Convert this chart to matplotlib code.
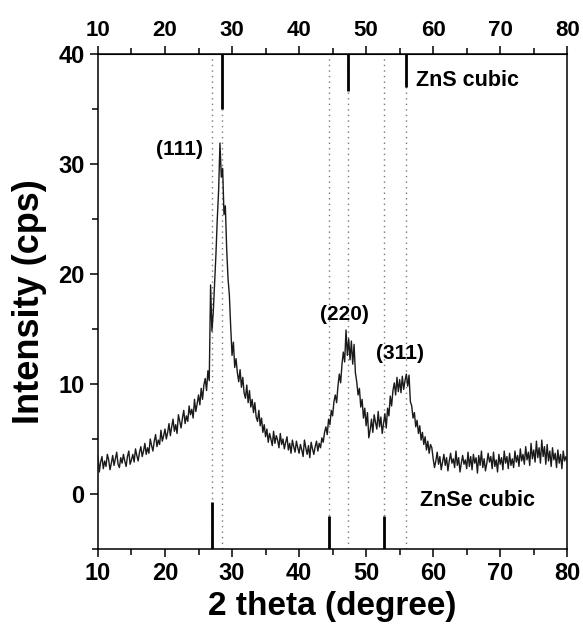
"""XRD pattern of ZnS/ZnSe film with cubic reference sticks (ZnS top, ZnSe bottom)."""
import numpy as np
import matplotlib
matplotlib.use("Agg")
import matplotlib.pyplot as plt
from matplotlib.ticker import MultipleLocator

plt.rcParams["font.family"] = ["Liberation Sans", "DejaVu Sans"]
plt.rcParams["font.weight"] = "bold"

# scan: 10-80 deg, 0.2 deg step, intensity in cps
start, step = 10.0, 0.2
intensity = [
    # 10-15
    3.5, 2.0, 2.9, 3.4, 2.3, 3.0, 2.5, 3.6, 3.1, 2.2, 2.8, 3.5, 2.6, 3.2, 3.8, 2.7, 2.4, 3.3, 2.8, 3.6, 3.0, 2.5, 3.4, 3.9, 2.7,
    # 15-20
    3.1, 3.6, 2.9, 4.1, 3.5, 3.0, 3.8, 4.3, 3.4, 3.9, 4.6, 3.6, 4.2, 3.7, 5.0, 4.4, 3.9, 4.8, 5.4, 4.3, 4.9, 4.5, 5.8, 4.8, 5.3,
    # 20-25
    5.9, 5.0, 5.6, 6.4, 5.3, 6.1, 6.8, 5.7, 6.3, 5.5, 7.2, 6.6, 6.0, 6.9, 7.6, 6.4, 7.1, 6.6, 8.0, 7.2, 7.7, 6.9, 8.6, 7.5, 8.2,
    # 25-30  (111)
    9.0, 8.1, 9.6, 8.6, 9.9, 10.5, 9.4, 11.2, 10.3, 19.0, 14.8, 16.5, 19.2, 21.8, 25.0, 27.6, 31.9, 28.8, 29.6, 25.4, 26.2, 22.3, 19.6, 18.1, 15.2,
    # 30-35
    12.6, 13.8, 11.5, 12.3, 11.0, 10.2, 11.3, 9.7, 10.6, 9.2, 8.7, 9.9, 8.3, 9.4, 7.9, 8.6, 7.4, 8.3, 7.0, 6.6, 7.6, 6.2, 6.9, 5.6, 6.3,
    # 35-40
    5.2, 5.9, 4.7, 5.5, 5.0, 4.4, 5.7, 4.6, 5.3, 4.9, 4.2, 5.5, 4.5, 5.0, 4.1, 4.7, 5.2, 4.0, 4.6, 3.7, 4.9, 4.3, 3.8, 4.8, 4.2,
    # 40-45
    3.7, 4.5, 4.0, 3.4, 4.9, 4.2, 3.6, 4.4, 3.3, 4.7, 4.1, 3.6, 4.3, 4.8, 3.9, 4.6, 4.2, 5.1, 4.7, 5.6, 6.1, 5.4, 6.8, 6.3, 7.6,
    # 45-50  (220)
    7.1, 8.4, 9.0, 8.3, 9.8, 10.9, 10.1, 11.8, 12.9, 12.0, 14.9, 12.6, 14.1, 12.2, 13.9, 11.8, 13.6, 11.0, 10.2, 9.0, 9.6, 7.9, 8.6, 6.9, 7.8,
    # 50-55
    6.2, 7.4, 5.1, 5.8, 6.8, 5.6, 7.2, 6.5, 5.9, 7.5, 6.1, 7.0, 5.5, 6.4, 7.3, 6.0, 7.8, 7.1, 8.9, 8.0, 9.4, 10.1, 9.0, 10.6, 9.3,
    # 55-60  (311)
    10.4, 9.2, 10.7, 9.5, 10.3, 10.9, 9.8, 10.8, 8.4, 8.0, 6.9, 7.4, 6.1, 6.7, 5.5, 6.2, 4.9, 5.6, 4.5, 5.2, 4.0, 4.8, 3.7, 4.5, 4.2,
    # 60-65
    3.2, 2.4, 3.0, 3.8, 2.7, 3.4, 2.2, 2.9, 3.6, 2.6, 3.3, 2.1, 3.0, 3.7, 2.8, 3.2, 2.4, 3.9, 2.6, 3.3, 2.0, 2.8, 3.5, 2.7, 3.1,
    # 65-70
    2.3, 3.8, 2.5, 3.4, 2.2, 3.6, 2.8, 3.3, 1.9, 3.5, 2.6, 3.9, 2.4, 3.2, 2.1, 2.8, 3.7, 2.9, 3.4, 2.3, 3.8, 2.5, 3.1, 2.0, 3.6,
    # 70-75
    2.7, 3.3, 2.2, 3.9, 2.8, 3.4, 2.3, 3.7, 2.6, 3.2, 2.4, 3.9, 2.9, 3.5, 2.5, 4.1, 3.0, 3.6, 2.7, 4.3, 3.1, 3.8, 2.6, 4.6, 3.2,
    # 75-80
    4.0, 2.9, 4.8, 3.3, 4.2, 2.8, 4.9, 3.4, 4.3, 2.7, 4.5, 3.0, 3.9, 2.5, 4.2, 3.1, 3.7, 2.4, 4.0, 2.8, 3.6, 2.3, 3.9, 3.0, 3.4,
    2.9,
]
two_theta = start + step * np.arange(len(intensity))

# reference patterns (stick tip heights on the intensity scale)
zns_pos = [28.5, 47.3, 56.0]
zns_tip = [35.0, 36.6, 37.0]
znse_pos = [26.95, 44.4, 52.7]
znse_tip = [-0.7, -2.0, -2.0]

peak_labels = ["(111)", "(220)", "(311)"]
peak_label_xy = [(22.2, 31.3), (46.7, 16.3), (55.0, 12.8)]

YMIN, YMAX = -5, 40

fig = plt.figure(figsize=(5.83, 6.31), dpi=100)
ax = fig.add_axes([0.168, 0.130, 0.805, 0.7845])

for x in zns_pos + znse_pos:
    ax.axvline(x, color="#777777", lw=1.0, ls=(0, (1, 3)), zorder=1)

ax.plot(two_theta, intensity, color="#1a1a1a", lw=1.0, zorder=3)

ax.vlines(zns_pos, zns_tip, YMAX, color="black", lw=2.0, zorder=4)
ax.vlines(znse_pos, YMIN, znse_tip, color="black", lw=2.0, zorder=4)

for lab, (x, y) in zip(peak_labels, peak_label_xy):
    ax.text(x, y, lab, ha="center", va="center", fontsize=15, fontweight="bold")
ax.text(57.4, 37.6, "ZnS cubic", ha="left", va="center", fontsize=15.5, fontweight="bold")
ax.text(58.0, -0.6, "ZnSe cubic", ha="left", va="center", fontsize=15.5, fontweight="bold")

ax.set_xlim(10, 80)
ax.set_ylim(YMIN, YMAX)
ax.xaxis.set_major_locator(MultipleLocator(10))
ax.xaxis.set_minor_locator(MultipleLocator(5))
ax.yaxis.set_major_locator(MultipleLocator(10))
ax.yaxis.set_minor_locator(MultipleLocator(5))
ax.tick_params(which="both", direction="out", width=1.1, labelsize=17, right=False)
ax.tick_params(which="major", length=6)
ax.tick_params(which="minor", length=4)
for lbl in ax.get_xticklabels() + ax.get_yticklabels():
    lbl.set_fontweight("bold")

top = ax.secondary_xaxis("top")
top.xaxis.set_major_locator(MultipleLocator(10))
top.xaxis.set_minor_locator(MultipleLocator(5))
top.tick_params(which="both", direction="out", width=1.1, labelsize=16)
top.tick_params(which="major", length=6)
top.tick_params(which="minor", length=4)
for lbl in top.get_xticklabels():
    lbl.set_fontweight("bold")

for s in ax.spines.values():
    s.set_linewidth(1.1)

ax.set_xlabel("2 theta (degree)", fontsize=24, fontweight="bold", labelpad=4)
ax.set_ylabel("Intensity (cps)", fontsize=26, fontweight="bold", labelpad=8)

fig.savefig("out.png", dpi=100)
